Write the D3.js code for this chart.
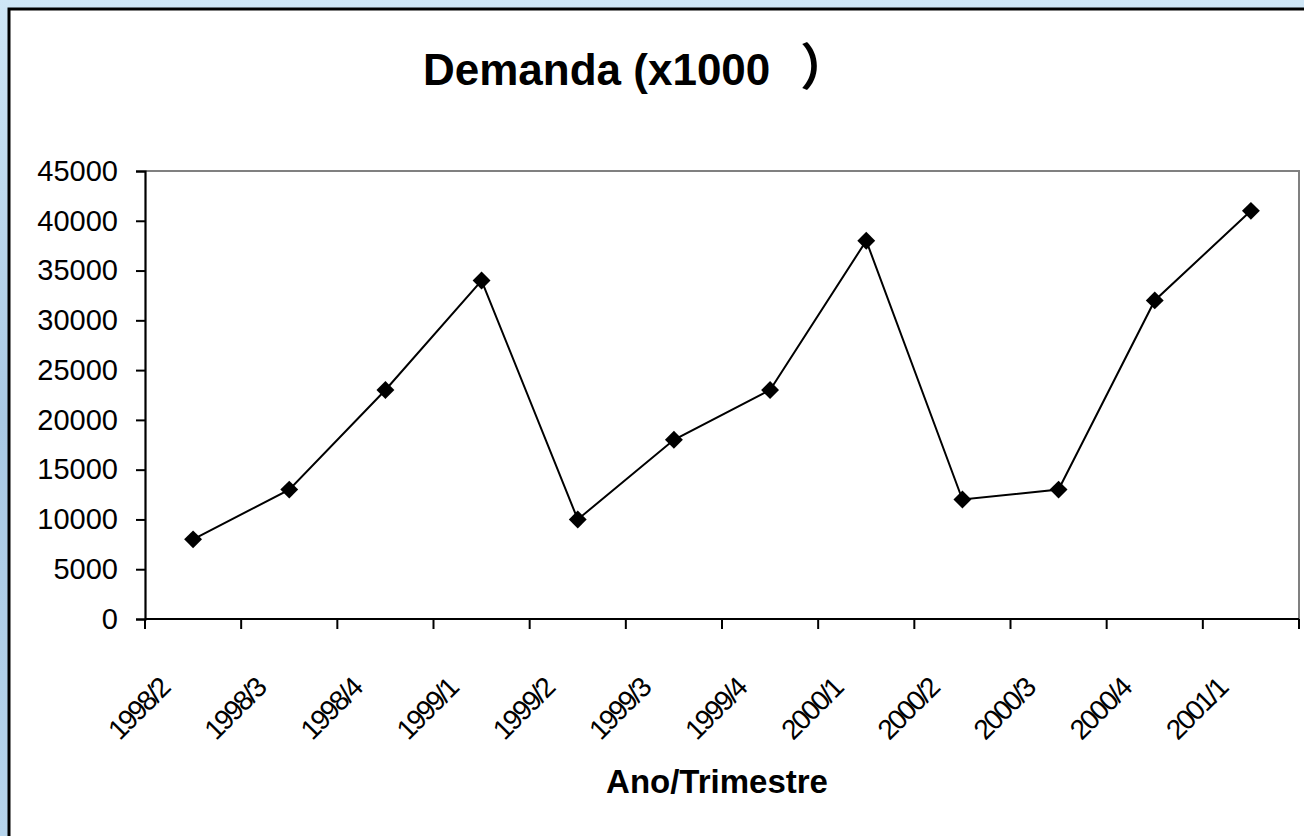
<!DOCTYPE html>
<html><head><meta charset="utf-8">
<script src="https://cdn.jsdelivr.net/npm/d3@7"></script>
<style>html,body{margin:0;padding:0;background:#b9d7ee;overflow:hidden}</style>
</head><body>
<svg id="chart" width="1304" height="836"></svg>
<script>
const categories = ["1998/2","1998/3","1998/4","1999/1","1999/2","1999/3","1999/4","2000/1","2000/2","2000/3","2000/4","2001/1"];
const demanda = [8000,13000,23000,34000,10000,18000,23000,38000,12000,13000,32000,41000];
const yTicks = [0,5000,10000,15000,20000,25000,30000,35000,40000,45000];
const titleText = "Demanda (x1000";
const titleParen = "）";
const xTitle = "Ano/Trimestre";

const svg = d3.select("#chart");
const FONT = "'Liberation Sans', Arial, sans-serif";

const defs = svg.append("defs");
const g1 = defs.append("linearGradient").attr("id","bg").attr("x1",0).attr("y1",0).attr("x2",0).attr("y2",1);
g1.append("stop").attr("offset","0%").attr("stop-color","#cfe6f6");
g1.append("stop").attr("offset","50%").attr("stop-color","#a9c9e4");
g1.append("stop").attr("offset","100%").attr("stop-color","#b6d4ec");
svg.append("rect").attr("width",1304).attr("height",836).attr("fill","url(#bg)");

svg.append("rect").attr("x",9).attr("y",9).attr("width",1400).attr("height",1000)
  .attr("fill","#fff").attr("stroke","#000").attr("stroke-width",3);

const mLeft = 145, mRight = 1299, mTop = 171, mBottom = 619;
const x = d3.scaleBand().domain(categories).range([mLeft,mRight]);
const y = d3.scaleLinear().domain([0,45000]).range([mBottom,mTop]);

svg.append("path").attr("d",`M${mLeft},${mTop}H${mRight}V${mBottom}`)
  .attr("fill","none").attr("stroke","#808080").attr("stroke-width",2);

const yAxis = svg.append("g").attr("transform",`translate(${mLeft},0)`)
  .call(d3.axisLeft(y).tickValues(yTicks).tickSize(9).tickPadding(18).tickFormat(d=>String(d)));
yAxis.select(".domain").attr("stroke","#000").attr("stroke-width",2.2);
yAxis.selectAll(".tick line").attr("stroke","#000").attr("stroke-width",2);
yAxis.selectAll(".tick text").attr("font-family",FONT).attr("font-size",29).attr("fill","#000");

const xAxis = svg.append("g").attr("transform",`translate(0,${mBottom})`)
  .call(d3.axisBottom(x).tickSize(0).tickFormat(""));
xAxis.select(".domain").remove();
xAxis.selectAll(".tick").remove();
xAxis.append("line").attr("x1",mLeft).attr("x2",mRight).attr("y1",0).attr("y2",0)
  .attr("stroke","#000").attr("stroke-width",2.2);
const bounds = categories.map(c=>x(c)).concat([mRight]);
xAxis.selectAll("line.tk").data(bounds).join("line").attr("class","tk")
  .attr("x1",d=>d).attr("x2",d=>d).attr("y1",0).attr("y2",10)
  .attr("stroke","#000").attr("stroke-width",2);
xAxis.selectAll("text.lbl").data(categories).join("text").attr("class","lbl")
  .attr("transform",d=>`translate(${x(d)+x.bandwidth()/2-22},${71}) rotate(-45)`)
  .attr("text-anchor","end")
  .attr("font-family",FONT).attr("font-size",28).attr("letter-spacing",-2.2).attr("fill","#000")
  .text(d=>d);

const line = d3.line().x((d,i)=>x(categories[i])+x.bandwidth()/2).y(d=>y(d));
svg.append("path").datum(demanda).attr("d",line).attr("fill","none")
  .attr("stroke","#000").attr("stroke-width",2);
svg.selectAll("path.mk").data(demanda).join("path").attr("class","mk")
  .attr("transform",(d,i)=>`translate(${x(categories[i])+x.bandwidth()/2},${y(d)}) rotate(45)`)
  .attr("d",d3.symbol().type(d3.symbolSquare).size(160)).attr("fill","#000");

const t = svg.append("text").attr("x",423).attr("y",85)
  .attr("font-family",FONT).attr("font-weight","bold").attr("font-size",44).attr("fill","#000");
t.append("tspan").text(titleText);
t.append("tspan").attr("x",800).attr("font-family","'Noto Sans CJK JP', sans-serif").attr("font-size",50).text(titleParen);

svg.append("text").attr("x",717).attr("y",793).attr("text-anchor","middle")
  .attr("font-family",FONT).attr("font-weight","bold").attr("font-size",33).attr("fill","#000")
  .text(xTitle);
</script>
</body></html>
